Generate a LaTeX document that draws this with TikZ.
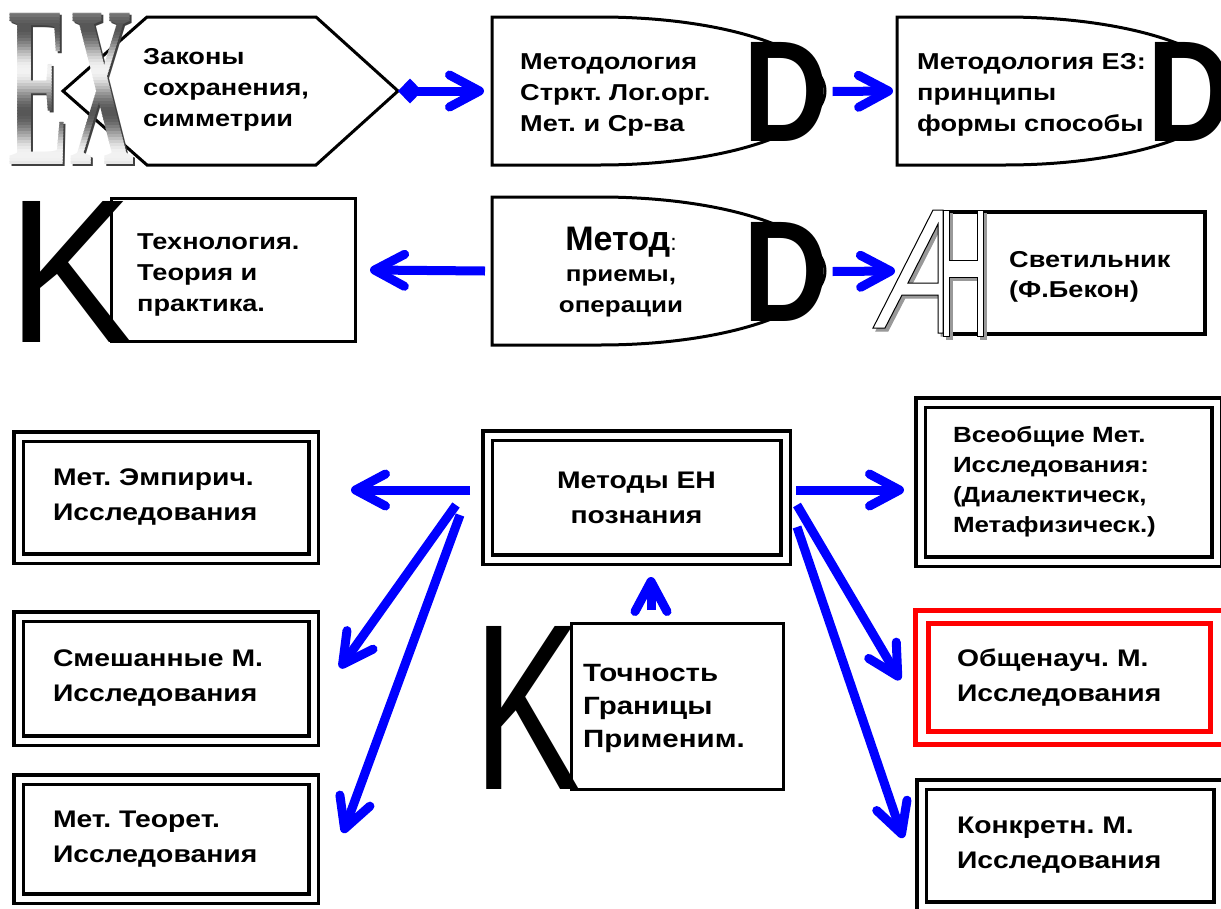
\documentclass[tikz,border=0pt]{standalone}
\usepackage{fontspec}
\setmainfont{Liberation Sans}
\newfontfamily\lbl{Liberation Sans}[FakeStretch=1.18]
\newfontfamily\exfont{Liberation Serif}
\usetikzlibrary{arrows.meta,calc}
\definecolor{linkblue}{RGB}{0,0,255}
\definecolor{alertred}{RGB}{255,0,0}
\tikzset{
  blue barb/.tip={Straight Barb[round,length=30pt,width=32pt]},
}
\frenchspacing
\begin{document}
\begin{tikzpicture}[x=1pt,y=-1pt,
  txt/.style={font=\lbl\bfseries\fontsize{23}{31}\selectfont, align=left, inner sep=0pt},
  shapeline/.style={draw=black, line width=3pt, line join=miter},
  pframe/.style={draw=black, line width=3pt, inner sep=0pt, outer sep=0pt},
  dframe/.style={draw=black, line width=3.5pt, double=white, double distance=6pt,
    inner sep=0pt, outer sep=0pt, align=left, font=\lbl\bfseries\fontsize{24}{35}\selectfont},
  rframe/.style={dframe, draw=alertred, line width=5pt, double distance=8pt},
  link/.style={draw=linkblue, line width=9pt, -{blue barb}},
  bigD/.style={inner sep=0pt, outer sep=0pt, font=\bfseries\fontsize{144}{144}\selectfont},
  exglyph/.style={inner sep=0pt, font=\exfont\bfseries\fontsize{231}{231}\selectfont},
  glyph/.style={line width=1pt, even odd rule},
]
\useasboundingbox (0,0) rectangle (1221,908);

% ---------- first row ----------
% hexagon "conservation laws"
\draw[shapeline] (63,91) -- (147,17) -- (316,17) -- (398,91) -- (316,165) -- (147,165) -- cycle;
\coordinate (hexR) at (398,91);
\node[txt, anchor=west] (cons) at (143,90) {Законы\\сохранения,\\симметрии};

% metallic EX monogram: dark shadow, then thin bands of a chrome gradient
\node[exglyph, text=black!75] (exS) at (73.5,90.5) {\scalebox{0.39}[1]{EX}};
\foreach \ya in {8,11,...,170} {
  \pgfmathsetmacro{\sh}{int(36-31*cos((\ya+1.5-70)*4.2353))}
  \begin{scope}
    \clip (0,\ya) rectangle (150,\ya+3.4);
    \node[exglyph, text=black!\sh] (ex\ya) at (71.5,88.5) {\scalebox{0.39}[1]{EX}};
  \end{scope}
}

% methodology box
\draw[shapeline] (492,17) -- (600,17) arc[start angle=90, end angle=-90, x radius=225pt, y radius=74pt] -- (492,165) -- cycle;
\coordinate (b2W) at (492,91);
\node[txt, anchor=west] (mdl) at (520,95) {Методология\\Стркт. Лог.орг.\\Мет. и Ср-ва};
\node[bigD] (d1) at (786,91.5) {\scalebox{0.82}[1]{D}};

% methodology of cognition box
\draw[shapeline] (897,17) -- (1005,17) arc[start angle=90, end angle=-90, x radius=225pt, y radius=74pt] -- (897,165) -- cycle;
\coordinate (b3W) at (897,91);
\node[txt, anchor=west] (mez) at (917,95) {Методология ЕЗ:\\принципы\\формы способы};
\node[bigD] (d2) at (1190,91.5) {\scalebox{0.82}[1]{D}};

\draw[link, {Diamond[length=24pt,width=25pt,line width=0pt]}-{blue barb}] (hexR) -- ($(b2W)+(-8,0)$);
\draw[link] ($(d1.east)+(4,0)$) -- ($(b3W)+(-4,0)$);

% ---------- second row ----------
\node[pframe, minimum width=244pt, minimum height=143pt] (tbox) at (233.5,270) {};
\node[txt, anchor=west] (tech) at (137,275) {Технология.\\Теория и\\практика.};
\node[inner sep=0pt, font=\fontsize{205}{205}\selectfont] (k1) at (70,271.5) {\scalebox{0.92}[1]{K}};

\draw[shapeline] (492,197) -- (600,197) arc[start angle=90, end angle=-90, x radius=225pt, y radius=74pt] -- (492,345) -- cycle;
\coordinate (b4W) at (492,271);
\node[txt, align=center, anchor=center, font=\lbl\bfseries\fontsize{22}{31}\selectfont] (met) at (621,272)
  {{\normalfont\bfseries\fontsize{34}{34}\selectfont Метод}{\normalfont\fontsize{23}{23}\selectfont :}\\приемы,\\операции};
\node[bigD] (d3) at (786,271.5) {\scalebox{0.82}[1]{D}};

\node[pframe, line width=4pt, minimum width=255pt, minimum height=122pt] (lbox) at (1077.5,273) {};
\node[txt, anchor=west, font=\lbl\bfseries\fontsize{23}{30}\selectfont] (bacon) at (1009,277) {Светильник\\(Ф.Бекон)};

% outlined AH monogram with drop shadow
\foreach \dx/\fc/\dc in {3/black!40/black!40, 0/white/black} {
  \path[glyph, shift={(\dx,\dx)}, fill=\fc, draw=\dc]
    (873,328) -- (933,210) -- (943,210) -- (943,333) -- (938,333) -- (938,295)
    -- (902,295) -- (885,328) -- cycle
    (908,283) -- (938,224) -- (938,283) -- cycle;
  \path[glyph, shift={(\dx,\dx)}, fill=\fc, draw=\dc]
    (943,210) -- (949,210) -- (949,260) -- (977,260) -- (977,210) -- (983,210)
    -- (983,336) -- (977,336) -- (977,277) -- (949,277) -- (949,336) -- (943,336) -- cycle;
}

\draw[link] ($(b4W)+(-7,0)$) -- ($(tbox.east)+(14.5,0)$);
\draw[link] ($(d3.east)+(4,0)$) -- ($(lbox.west)+(-55,-2)$);

% ---------- third block ----------
\node[dframe, minimum width=295pt, minimum height=122pt, text width=226pt] (emp) at (166,497.5) {Мет. Эмпирич.\\Исследования};
\node[dframe, minimum width=295pt, minimum height=124pt, text width=226pt] (mix) at (166,678.5) {Смешанные М.\\Исследования};
\node[dframe, minimum width=295pt, minimum height=119pt, text width=226pt] (teo) at (166,839) {Мет. Теорет.\\Исследования};
\node[dframe, minimum width=298pt, minimum height=124pt, align=center] (ctr) at (636.5,497.5) {Методы ЕН\\познания};
\node[dframe, minimum width=296pt, minimum height=159pt, text width=231pt,
      font=\lbl\bfseries\fontsize{22}{30}\selectfont] (univ) at (1068.5,482) {Всеобщие Мет.\\Исследования:\\(Диалектическ,\\Метафизическ.)};
\node[rframe, minimum width=295pt, minimum height=121pt, text width=225pt] (gen) at (1069.5,677.5) {Общенауч. М.\\Исследования};
\node[dframe, minimum width=297pt, minimum height=122pt, text width=226pt] (con) at (1070,845.5) {Конкретн. М.\\Исследования};

\node[pframe, minimum width=212pt, minimum height=166pt] (kbox) at (677.5,706.5) {};
\node[txt, anchor=west, font=\lbl\bfseries\fontsize{25}{33}\selectfont] (prec) at (583,708) {Точность\\Границы\\Применим.};
\node[inner sep=0pt, font=\fontsize{237}{237}\selectfont] (k2) at (527,708) {\scalebox{0.68}[1]{K}};

\draw[link] ($(ctr.west)+(-17.5,-7.5)$) -- ($(emp.east)+(37.5,-7.5)$);
\draw[link] ($(ctr.west)+(-31.5,7.5)$) -- ($(mix.east)+(26.5,-10.5)$);
\draw[link] ($(ctr.west)+(-27.5,17.5)$) -- ($(teo.east)+(29.5,-6)$);
\draw[link] ($(ctr.east)+(10.5,-7.5)$) -- ($(univ.west)+(-16.5,8)$);
\draw[link] ($(ctr.east)+(11.5,7.5)$) -- ($(gen.west)+(-22,2.5)$);
\draw[link] ($(ctr.east)+(11.5,29.5)$) -- ($(con.west)+(-18.5,-7.5)$);
\draw[link] ($(kbox.north)+(-26.5,-13.5)$) -- ($(ctr.south)+(14.5,17.5)$);
\end{tikzpicture}
\end{document}
